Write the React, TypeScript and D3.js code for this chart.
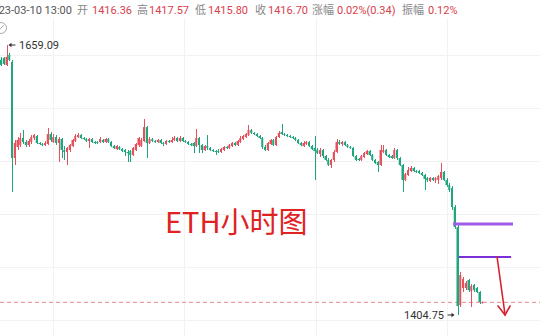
import React from 'react';
import * as d3 from 'd3';

// ETH hourly OHLC
const openP = [
  1645.0, 1646.9, 1640.3, 1649.7, 1643.1, 1552.6, 1563.0, 1564.9, 1571.5, 1567.7,
  1564.9, 1567.7, 1571.5, 1573.4, 1566.8, 1565.8, 1564.9, 1565.8, 1575.2, 1567.7,
  1572.4, 1566.8, 1570.5, 1560.2, 1558.3, 1560.2, 1563.9, 1568.6, 1572.4, 1574.3,
  1571.5, 1570.5, 1568.6, 1570.5, 1567.7, 1567.7, 1567.7, 1569.6, 1567.7, 1570.5,
  1567.7, 1563.9, 1561.1, 1563.0, 1561.1, 1560.2, 1558.3, 1559.2, 1555.5, 1560.2,
  1564.9, 1563.9, 1568.6, 1581.8, 1566.8, 1570.5, 1568.6, 1567.7, 1569.6, 1566.8,
  1565.8, 1568.6, 1567.7, 1569.6, 1571.5, 1568.6, 1571.5, 1568.6, 1567.7, 1565.8,
  1566.8, 1563.9, 1571.5, 1564.9, 1560.2, 1563.9, 1562.1, 1560.2, 1559.2, 1559.2,
  1558.3, 1560.2, 1563.0, 1562.1, 1563.9, 1566.8, 1564.9, 1567.7, 1570.5, 1572.4,
  1574.3, 1579.0, 1576.2, 1575.2, 1573.4, 1571.5, 1563.0, 1560.2, 1565.8, 1569.6,
  1564.9, 1572.4, 1577.1, 1575.2, 1574.3, 1573.4, 1572.4, 1571.5, 1569.6, 1566.8,
  1563.9, 1565.8, 1567.7, 1563.9, 1562.1, 1560.2, 1556.4, 1560.2, 1554.5, 1550.8,
  1546.0, 1550.8, 1558.3, 1567.7, 1565.8, 1567.7, 1564.9, 1563.0, 1562.1, 1554.5,
  1551.7, 1550.8, 1553.6, 1556.4, 1559.2, 1555.5, 1550.8, 1548.9, 1546.0, 1558.3,
  1560.2, 1555.5, 1554.5, 1552.6, 1560.2, 1552.6, 1546.0, 1531.9, 1536.6, 1540.4,
  1543.2, 1540.4, 1540.4, 1538.5, 1536.6, 1533.8, 1531.0, 1533.8, 1531.9, 1531.9,
  1533.8, 1539.5, 1531.9, 1527.2, 1524.4, 1506.5, 1487.6, 1414.2, 1430.2, 1430.2,
  1437.7, 1427.3, 1433.0, 1430.2, 1426.4, 1416.36,
];
const highP = [
  1647.8, 1647.8, 1659.09, 1651.6, 1645.0, 1569.6, 1572.4, 1576.2, 1579.0, 1569.6,
  1570.5, 1574.3, 1575.2, 1574.3, 1567.7, 1566.8, 1568.6, 1580.9, 1577.1, 1575.2,
  1574.3, 1572.4, 1571.5, 1563.9, 1563.0, 1565.8, 1570.5, 1575.2, 1576.2, 1575.2,
  1572.4, 1571.5, 1571.5, 1571.5, 1568.6, 1568.6, 1572.4, 1570.5, 1571.5, 1571.5,
  1568.6, 1564.9, 1564.9, 1563.9, 1562.1, 1561.1, 1560.2, 1560.2, 1563.0, 1566.8,
  1572.4, 1571.5, 1589.4, 1582.8, 1572.4, 1571.5, 1569.6, 1570.5, 1570.5, 1567.7,
  1569.6, 1569.6, 1572.4, 1573.4, 1572.4, 1573.4, 1572.4, 1569.6, 1568.6, 1566.8,
  1567.7, 1580.0, 1572.4, 1565.8, 1564.9, 1574.3, 1563.0, 1561.1, 1560.2, 1561.1,
  1562.1, 1563.9, 1563.9, 1565.8, 1567.7, 1567.7, 1569.6, 1573.4, 1574.3, 1576.2,
  1583.7, 1580.0, 1577.1, 1576.2, 1574.3, 1572.4, 1564.9, 1567.7, 1570.5, 1570.5,
  1573.4, 1578.1, 1584.7, 1576.2, 1575.2, 1574.3, 1573.4, 1572.4, 1570.5, 1567.7,
  1568.6, 1568.6, 1568.6, 1564.9, 1573.4, 1562.1, 1562.1, 1561.1, 1555.5, 1552.6,
  1551.7, 1560.2, 1570.5, 1569.6, 1568.6, 1568.6, 1565.8, 1563.9, 1563.0, 1555.5,
  1552.6, 1555.5, 1558.3, 1560.2, 1560.2, 1556.4, 1551.7, 1549.8, 1564.9, 1564.9,
  1561.1, 1556.4, 1555.5, 1562.1, 1561.1, 1553.6, 1547.0, 1538.5, 1544.2, 1545.1,
  1544.2, 1541.3, 1541.3, 1539.5, 1537.6, 1534.7, 1534.7, 1534.7, 1534.7, 1536.6,
  1547.9, 1540.4, 1533.8, 1529.1, 1526.3, 1508.4, 1489.5, 1445.3, 1440.6, 1436.8,
  1438.7, 1434.0, 1434.0, 1431.1, 1427.3, 1417.57,
];
const lowP = [
  1639.3, 1640.3, 1639.3, 1644.0, 1520.6, 1546.0, 1560.2, 1563.0, 1565.8, 1563.0,
  1563.0, 1565.8, 1569.6, 1565.8, 1564.9, 1563.9, 1563.9, 1564.9, 1567.7, 1566.8,
  1564.9, 1548.9, 1552.6, 1550.8, 1546.0, 1558.3, 1563.0, 1567.7, 1571.5, 1570.5,
  1569.6, 1567.7, 1562.1, 1566.8, 1565.8, 1565.8, 1566.8, 1566.8, 1566.8, 1566.8,
  1563.0, 1561.1, 1560.2, 1560.2, 1558.3, 1554.5, 1548.9, 1548.9, 1554.5, 1559.2,
  1563.0, 1563.0, 1567.7, 1552.6, 1565.8, 1567.7, 1566.8, 1566.8, 1565.8, 1563.9,
  1564.9, 1566.8, 1566.8, 1568.6, 1567.7, 1567.7, 1567.7, 1566.8, 1564.9, 1563.9,
  1557.3, 1563.0, 1557.3, 1557.3, 1559.2, 1560.2, 1559.2, 1558.3, 1555.5, 1557.3,
  1557.3, 1559.2, 1561.1, 1561.1, 1563.0, 1563.9, 1563.9, 1566.8, 1569.6, 1571.5,
  1573.4, 1575.2, 1574.3, 1572.4, 1570.5, 1561.1, 1559.2, 1559.2, 1564.9, 1563.9,
  1563.9, 1571.5, 1574.3, 1573.4, 1572.4, 1571.5, 1570.5, 1568.6, 1565.8, 1563.9,
  1563.0, 1564.9, 1563.0, 1560.2, 1531.9, 1556.4, 1553.6, 1552.6, 1549.8, 1545.1,
  1543.2, 1548.9, 1557.3, 1564.9, 1563.9, 1563.9, 1562.1, 1561.1, 1553.6, 1549.8,
  1549.8, 1549.8, 1552.6, 1555.5, 1554.5, 1549.8, 1547.0, 1539.5, 1545.1, 1557.3,
  1554.5, 1552.6, 1551.7, 1551.7, 1550.8, 1545.1, 1520.6, 1531.0, 1535.7, 1539.5,
  1539.5, 1538.5, 1537.6, 1535.7, 1522.5, 1530.0, 1530.0, 1531.0, 1529.1, 1528.2,
  1531.9, 1531.0, 1525.3, 1520.6, 1503.7, 1485.8, 1404.75, 1412.3, 1426.4, 1428.3,
  1426.4, 1412.3, 1426.4, 1425.5, 1415.1, 1415.80,
];
const closeP = [
  1640.3, 1641.2, 1647.8, 1645.0, 1552.6, 1566.8, 1569.6, 1571.5, 1567.7, 1564.9,
  1568.6, 1572.4, 1574.3, 1566.8, 1565.8, 1564.9, 1566.8, 1575.2, 1569.6, 1572.4,
  1566.8, 1570.5, 1560.2, 1558.3, 1562.1, 1564.9, 1569.6, 1573.4, 1574.3, 1571.5,
  1570.5, 1568.6, 1570.5, 1567.7, 1566.8, 1566.8, 1570.5, 1567.7, 1570.5, 1567.7,
  1563.9, 1562.1, 1563.9, 1561.1, 1559.2, 1558.3, 1557.3, 1555.5, 1562.1, 1565.8,
  1571.5, 1569.6, 1581.8, 1566.8, 1570.5, 1568.6, 1567.7, 1569.6, 1566.8, 1565.8,
  1568.6, 1567.7, 1569.6, 1571.5, 1568.6, 1571.5, 1568.6, 1567.7, 1565.8, 1564.9,
  1563.9, 1571.5, 1564.9, 1560.2, 1563.9, 1562.1, 1560.2, 1559.2, 1558.3, 1558.3,
  1561.1, 1563.0, 1562.1, 1564.9, 1566.8, 1564.9, 1568.6, 1571.5, 1573.4, 1575.2,
  1579.0, 1576.2, 1575.2, 1573.4, 1571.5, 1563.0, 1560.2, 1566.8, 1569.6, 1564.9,
  1572.4, 1576.2, 1575.2, 1574.3, 1573.4, 1572.4, 1571.5, 1569.6, 1566.8, 1564.9,
  1566.8, 1567.7, 1563.9, 1561.1, 1559.2, 1557.3, 1560.2, 1554.5, 1550.8, 1546.0,
  1550.8, 1558.3, 1567.7, 1565.8, 1567.7, 1564.9, 1563.0, 1562.1, 1554.5, 1550.8,
  1550.8, 1554.5, 1557.3, 1559.2, 1555.5, 1550.8, 1547.9, 1546.0, 1560.2, 1560.2,
  1555.5, 1553.6, 1552.6, 1560.2, 1552.6, 1546.0, 1531.9, 1537.6, 1541.3, 1543.2,
  1540.4, 1539.5, 1538.5, 1536.6, 1532.9, 1531.9, 1533.8, 1531.9, 1533.8, 1535.7,
  1539.5, 1531.9, 1527.2, 1522.5, 1506.5, 1487.6, 1413.2, 1442.4, 1438.7, 1434.9,
  1428.3, 1432.1, 1428.3, 1426.4, 1417.0, 1416.70,
];

const gridPrices = [1400, 1450, 1500, 1550, 1600, 1650];
const gridIdx = [18.9, 66.5, 114.5, 162.2];
const lastClose = 1416.7;
const levelPrices = [1490.5, 1459.4];
const levelFrom = [164.4, 166.5];
const levelTo = [186.2, 185.5];
const arrowIdx = [180.4, 183.3];
const arrowPrices = [1459.4, 1404.75];

const headerLabels = ['2023-03-10 13:00', '开', '1416.36', '高', '1417.57', '低', '1415.80', '收', '1416.70', '涨幅', '0.02%(0.34)', '振幅', '0.12%'];
const titleText = 'ETH小时图';

const UP = '#e5505b';
const DOWN = '#1ea67f';
const FONT = "Roboto, 'Noto Sans CJK SC', sans-serif";

export default function App() {
  const W = 540;
  const H = 336;
  const n = closeP.length;
  const x = d3.scaleLinear().domain([0, n - 1]).range([1, 482.25]);
  const y = d3.scaleLinear().domain([1404.75, 1659.09]).range([315, 45]);

  const maxI = d3.maxIndex(highP);
  const minI = d3.minIndex(lowP);

  const headerX = [72, 77, 92, 137, 149, 195, 208, 255, 268, 312, 337, 402, 428];
  const headerColor = (i: number) => {
    if (i === 0) return '#555';
    if (i % 2 === 1) return '#888';
    return '#d9414c';
  };

  const hx = x(maxI);
  const hy = y(highP[maxI]);
  const lx = x(minI);
  const ly = y(lowP[minI]);

  return (
    <div style={{ position: 'absolute', left: 0, top: 0, width: W, height: H, background: '#fff' }}>
      <svg width={W} height={H} style={{ display: 'block' }} fontFamily={FONT}>
        <rect x={0} y={0} width={W} height={H} fill="#fff" />
        {/* grid */}
        {gridPrices.map((p) => (
          <line key={'h' + p} x1={0} x2={W} y1={Math.round(y(p)) + 0.5} y2={Math.round(y(p)) + 0.5} stroke="#f2f2f2" strokeWidth={1} />
        ))}
        {gridIdx.map((g) => (
          <line key={'v' + g} x1={Math.round(x(g)) + 0.5} x2={Math.round(x(g)) + 0.5} y1={18} y2={H} stroke="#f2f2f2" strokeWidth={1} />
        ))}

        {/* header */}
        <text y={14} fontSize={11}>
          {headerLabels.map((t, i) => (
            <tspan key={i} x={headerX[i]} textAnchor={i === 0 ? 'end' : 'start'} fill={headerColor(i)}>{t}</tspan>
          ))}
        </text>
        <circle cx={1} cy={28} r={5.5} fill="none" stroke="#aaa" strokeWidth={1} />
        <line x1={-2} y1={31} x2={4} y2={25} stroke="#aaa" strokeWidth={1} />

        {/* last price dashed line */}
        <line x1={0} x2={W} y1={y(lastClose)} y2={y(lastClose)} stroke="#e88a8a" strokeWidth={1} strokeDasharray="4 3" />

        {/* candles */}
        {closeP.map((c, i) => {
          const o = openP[i];
          const up = c >= o;
          const col = up ? UP : DOWN;
          const cx = x(i);
          const wx = Math.round(cx) + 0.5;
          const top = y(Math.max(o, c));
          const bot = y(Math.min(o, c));
          return (
            <g key={i}>
              <line x1={wx} x2={wx} y1={y(highP[i])} y2={y(lowP[i])} stroke={col} strokeWidth={1} />
              <rect x={cx - 1} y={top} width={2} height={Math.max(1, bot - top)} fill={col} />
            </g>
          );
        })}

        {/* high label */}
        <g>
          <line x1={hx + 3} x2={hx + 9} y1={hy} y2={hy} stroke="#333" strokeWidth={1} />
          <path d={`M${hx + 2},${hy} L${hx + 5},${hy - 2.2} L${hx + 5},${hy + 2.2} Z`} fill="#333" />
          <text x={hx + 12.5} y={hy + 4} fontSize={11} fill="#333">{highP[maxI].toFixed(2)}</text>
        </g>
        {/* low label */}
        <g>
          <line x1={lx - 10} x2={lx - 4} y1={ly} y2={ly} stroke="#333" strokeWidth={1} />
          <path d={`M${lx - 3},${ly} L${lx - 6},${ly - 2.2} L${lx - 6},${ly + 2.2} Z`} fill="#333" />
          <text x={lx - 13.5} y={ly + 4} fontSize={11} fill="#333" textAnchor="end">{lowP[minI].toFixed(2)}</text>
        </g>

        {/* annotation levels */}
        <line x1={x(levelFrom[0])} x2={x(levelTo[0])} y1={y(levelPrices[0])} y2={y(levelPrices[0])} stroke="#a25be8" strokeWidth={3} />
        <line x1={x(levelFrom[1])} x2={x(levelTo[1])} y1={y(levelPrices[1])} y2={y(levelPrices[1])} stroke="#7b30d6" strokeWidth={2} />

        {/* red arrow */}
        {(() => {
          const x1 = x(arrowIdx[0]);
          const y1 = y(arrowPrices[0]);
          const x2 = x(arrowIdx[1]);
          const y2 = y(arrowPrices[1]);
          return (
            <g stroke="#d8232f" strokeWidth={1.6} fill="none" strokeLinecap="round">
              <line x1={x1} y1={y1} x2={x2} y2={y2} />
              <polyline points={`${x2 - 7},${y2 - 9} ${x2},${y2} ${x2 + 5},${y2 - 9}`} />
            </g>
          );
        })()}

        {/* title */}
        <text x={165} y={233} fontSize={29} fill="#e02222" fontFamily="'Noto Sans CJK SC', sans-serif">{titleText}</text>
      </svg>
    </div>
  );
}
